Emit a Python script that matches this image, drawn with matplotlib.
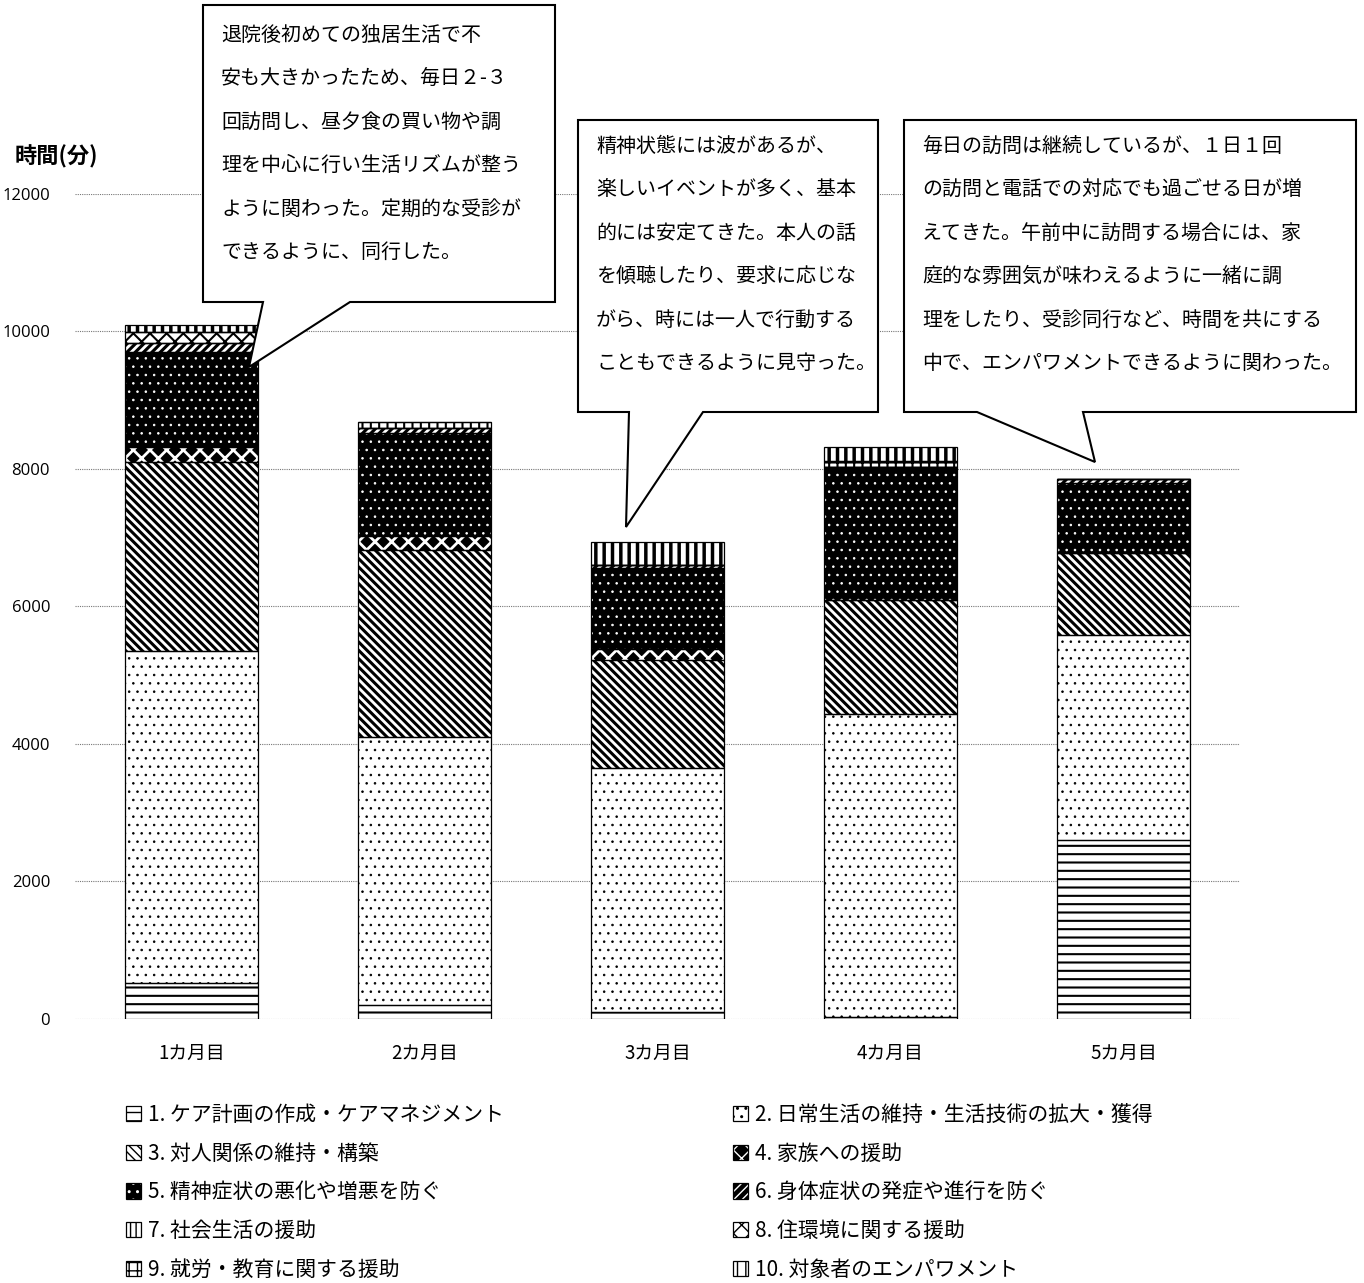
import matplotlib
matplotlib.use("Agg")
from matplotlib import pyplot as plt
from matplotlib.patches import Patch, Polygon

plt.rcParams["font.family"] = ["Noto Sans CJK JP", "DejaVu Sans"]

# Data (minutes per month, stacked by support category)
months = ["1カ月目", "2カ月目", "3カ月目", "4カ月目", "5カ月目"]
categories = [
    "1. ケア計画の作成・ケアマネジメント",
    "2. 日常生活の維持・生活技術の拡大・獲得",
    "3. 対人関係の維持・構築",
    "4. 家族への援助",
    "5. 精神症状の悪化や増悪を防ぐ",
    "6. 身体症状の発症や進行を防ぐ",
    "7. 社会生活の援助",
    "8. 住環境に関する援助",
    "9. 就労・教育に関する援助",
    "10. 対象者のエンパワメント",
]
cat1 = [520, 200, 100, 30, 2600]
cat2 = [4830, 3900, 3550, 4410, 2990]
cat3 = [2750, 2720, 1570, 1650, 1190]
cat4 = [220, 200, 160, 0, 0]
cat5 = [1380, 1500, 1180, 1935, 1020]
cat6 = [130, 70, 50, 0, 50]
cat7 = [0, 0, 0, 0, 0]
cat8 = [160, 0, 0, 0, 0]
cat9 = [0, 100, 0, 90, 0]
cat10 = [110, 0, 330, 200, 0]
series = [cat1, cat2, cat3, cat4, cat5, cat6, cat7, cat8, cat9, cat10]

notes = [
    "退院後初めての独居生活で不\n安も大きかったため、毎日２-３\n回訪問し、昼夕食の買い物や調\n"
    "理を中心に行い生活リズムが整う\nように関わった。定期的な受診が\nできるように、同行した。",
    "精神状態には波があるが、\n楽しいイベントが多く、基本\n的には安定てきた。本人の話\n"
    "を傾聴したり、要求に応じな\nがら、時には一人で行動する\nこともできるように見守った。",
    "毎日の訪問は継続しているが、１日１回\nの訪問と電話での対応でも過ごせる日が増\n"
    "えてきた。午前中に訪問する場合には、家\n庭的な雰囲気が味わえるように一緒に調\n"
    "理をしたり、受診同行など、時間を共にする\n中で、エンパワメントできるように関わった。",
]

# (face, hatch, hatch colour, hatch linewidth)
styles = [
    ("white", "--", "black", 1.5),
    ("white", "..", "black", 0.6),
    ("white", "\\\\\\\\", "black", 2.2),
    ("black", "xx", "white", 2.0),
    ("black", "..", "white", 0.6),
    ("black", "////", "white", 2.0),
    ("white", "|||", "black", 1.0),
    ("white", "xx", "black", 1.5),
    ("white", "++", "black", 1.5),
    ("white", "||", "black", 2.5),
]

fig = plt.figure(figsize=(13.64, 12.83), dpi=100)
ax = fig.add_axes([0.055, 0.2058, 0.854, 0.643])

x = range(len(months))
bottom = [0] * len(months)
width = 0.57
for vals, (fc, hatch, hc, hlw) in zip(series, styles):
    with plt.rc_context({"hatch.linewidth": hlw}):
        bars = ax.bar(x, vals, width, bottom=bottom, color=fc,
                      edgecolor=hc, hatch=hatch, linewidth=0, zorder=2)
        for b in bars:
            if hasattr(b, "set_hatch_linewidth"):
                b.set_hatch_linewidth(hlw)
    ax.bar(x, vals, width, bottom=bottom, fill=False,
           edgecolor="black", linewidth=0.9, zorder=3)
    bottom = [b + v for b, v in zip(bottom, vals)]

ax.set_xlim(-0.5, 4.5)
ax.set_ylim(0, 12000)
ax.set_yticks(range(0, 12001, 2000))
ax.grid(axis="y", color="#777777", linestyle=(0, (1, 1)), linewidth=0.8, zorder=0)
for s in ax.spines.values():
    s.set_visible(False)
ax.tick_params(length=0)
ax.tick_params(axis="y", pad=18)
ax.tick_params(axis="x", pad=17)
ax.set_xticks(list(x))
ax.set_xticklabels(months, fontsize=13.5)
for t in ax.get_yticklabels():
    t.set_fontfamily("Open Sans")
    t.set_fontsize(12)

fig.text(0.011, 0.878, "時間(分)", fontsize=16, fontweight="bold", va="center")

# Legend, laid out row by row (1,2 / 3,4 / ...)
order = [0, 2, 4, 6, 8, 1, 3, 5, 7, 9]
handles = []
for i in order:
    fc, hatch, hc, hlw = styles[i]
    fill = Patch(facecolor=fc, edgecolor=hc, hatch=hatch, linewidth=0)
    outline = Patch(fill=False, edgecolor="black", linewidth=0.9)
    handles.append((fill, outline))
fig.legend(handles, [categories[i] for i in order], ncol=2,
           loc="upper left", bbox_to_anchor=(0.086, 0.146), frameon=False,
           fontsize=15, handlelength=0.75, handleheight=0.75, handletextpad=0.3,
           columnspacing=11.0, labelspacing=0.8, borderaxespad=0)

# Speech-bubble callouts in pixel coordinates
ov = fig.add_axes([0, 0, 1, 1], zorder=5)
ov.set_xlim(0, 1364)
ov.set_ylim(1283, 0)
ov.axis("off")
boxes = [
    (203, 5, 555, 302, 263, 350, (249, 367), 20),
    (578, 120, 878, 412, 629, 703, (626, 527), 16),
    (904, 120, 1356, 412, 977, 1083, (1095, 462), 16),
]
for (x0, y0, x1, y1, b0, b1, tip, dy), note in zip(boxes, notes):
    pts = [(x0, y0), (x1, y0), (x1, y1), (b1, y1), tip, (b0, y1), (x0, y1)]
    ov.add_patch(Polygon(pts, closed=True, facecolor="white",
                         edgecolor="black", linewidth=1.5))
    ov.text(x0 + 18, y0 + dy, note, fontsize=14.4, va="top", ha="left",
            linespacing=2.4)

fig.savefig("out.png", dpi=100)
